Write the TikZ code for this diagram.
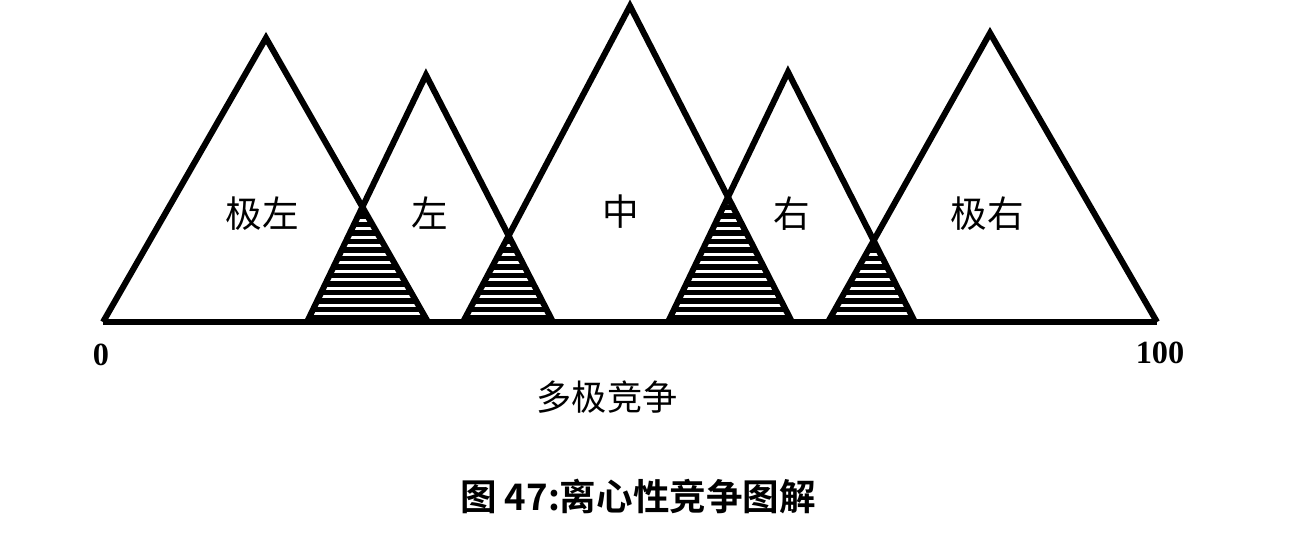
\documentclass[tikz,border=0pt]{standalone}
\usepackage{fontspec}
\setmainfont{Liberation Serif}
\newfontfamily\cjk[BoldFont={Noto Sans CJK SC Bold}]{Noto Sans CJK SC}
\usetikzlibrary{positioning}

\begin{document}
\begin{tikzpicture}[x=0.025cm, y=-0.025cm, line width=4.3pt,
                    peak/.style = {draw, line join=miter},
                    hatch/.style = {line width=3.8pt},
                    region/.style = {font=\cjk\fontsize{26}{26}\selectfont},
                    tick/.style = {font=\bfseries\fontsize{23}{23}\selectfont}]
\useasboundingbox (0,0) rectangle (1308,542);
% base and apex points of the five triangles
\coordinate (l1) at (103,322); \coordinate (t1) at (266,38);  \coordinate (r1) at (428,322);
\coordinate (l2) at (307,322); \coordinate (t2) at (426,75);  \coordinate (r2) at (553,322);
\coordinate (l3) at (463,322); \coordinate (t3) at (630,6);   \coordinate (r3) at (792,322);
\coordinate (l4) at (668,322); \coordinate (t4) at (788,72);  \coordinate (r4) at (915,322);
\coordinate (l5) at (828,322); \coordinate (t5) at (990,33);  \coordinate (r5) at (1157,322);
% overlaps
\foreach \i/\j in {1/2,2/3,3/4,4/5} {
  \begin{scope}
    \clip (l\i) -- (t\i) -- (r\i) -- cycle;
    \clip (l\j) -- (t\j) -- (r\j) -- cycle;
    \foreach \y in {318,309.5,...,180} \draw[hatch] (280,\y) -- (1000,\y);
  \end{scope}
}
\foreach \i in {1,...,5} \draw[peak] (l\i) -- (t\i) -- (r\i);
\draw (l1) -- (r5);
% labels
\node[region] (fl) at (262,214) {极左};
\node[region] (lt) at (430,213) {左};
\node[region] (md) at (621,212) {中};
\node[region] (rt) at (792,214) {右};
\node[region] (fr) at (987,214) {极右};
\node[tick] (zero) at (101,355) {0};
\node[tick] (hund) at (1160,353) {100};
\node[font=\cjk\fontsize{25}{25}\selectfont] (axis) at (607,397) {多极竞争};
\node[font=\cjk\bfseries\fontsize{26}{26}\selectfont] (title) at (638,496) {图 47:离心性竞争图解};
\end{tikzpicture}
\end{document}
